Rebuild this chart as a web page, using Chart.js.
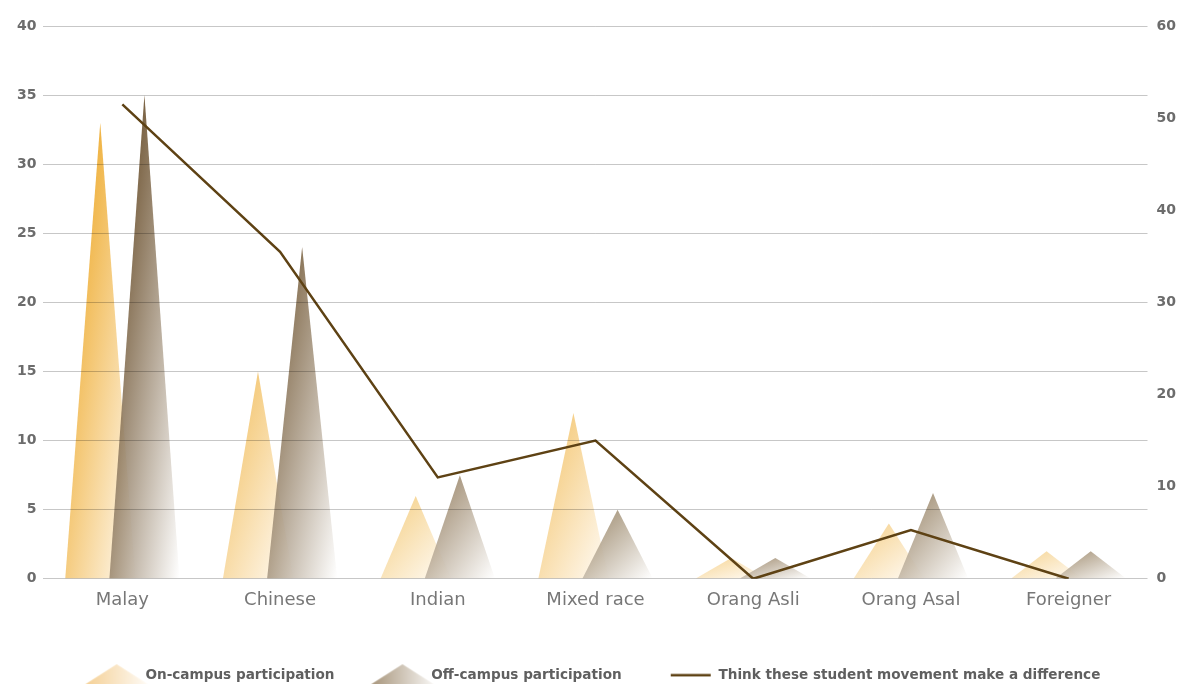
<!DOCTYPE html>
<html>
<head>
<meta charset="utf-8">
<title>Student movement participation by ethnicity</title>
<script src="https://cdn.jsdelivr.net/npm/chart.js@4.4.1/dist/chart.umd.min.js"></script>
<style>
  html, body { margin: 0; padding: 0; background: #fff; }
  #ethnicChart { display: block; }
</style>
</head>
<body>
<canvas id="ethnicChart" width="1177" height="684"></canvas>
<script>
// data
const categories = ["Malay", "Chinese", "Indian", "Mixed race", "Orang Asli", "Orang Asal", "Foreigner"];
const onCampus = [33, 15, 6, 12, 1.5, 4, 2];
const offCampus = [35, 24, 7.5, 5, 1.5, 6.2, 2];
const makeDifference = [51.5, 35.5, 11, 15, 0, 5.3, 0];
const leftTicks = [0, 5, 10, 15, 20, 25, 30, 35, 40];
const rightTicks = [0, 10, 20, 30, 40, 50, 60];

const FONT = "'DejaVu Sans', 'Noto Sans', sans-serif";
const LINE_COLOR = "#5e4214";
const LEGEND_COLOR = "#5f5f5f";

// triangle palettes: light apex / strong apex / fade-out colour
const onPalette = { light: [248, 222, 172], strong: [239, 176, 58], base: "rgb(255,252,248)" };
const offPalette = { light: [176, 160, 136], strong: [104, 77, 42], base: "rgb(255,255,255)" };

function mix(a, b, t) {
  return a.map((v, i) => Math.round(v + (b[i] - v) * t));
}

// little canvases used as legend symbols
function triangleIcon(from) {
  const c = document.createElement("canvas");
  c.width = 74; c.height = 26;
  const g = c.getContext("2d");
  const grad = g.createLinearGradient(0, 0, 74, 0);
  grad.addColorStop(0, from);
  grad.addColorStop(1, "rgba(255,255,255,1)");
  g.fillStyle = grad;
  g.beginPath();
  g.moveTo(1, 25);
  g.lineTo(37, 2);
  g.lineTo(73, 25);
  g.closePath();
  g.fill();
  return c;
}
function lineIcon() {
  const c = document.createElement("canvas");
  c.width = 44; c.height = 4;
  const g = c.getContext("2d");
  g.strokeStyle = LINE_COLOR;
  g.lineWidth = 2.5;
  g.beginPath();
  g.moveTo(3, 2);
  g.lineTo(43, 2);
  g.stroke();
  return c;
}
const legendIcons = [
  triangleIcon("rgb(244,204,140)"),
  triangleIcon("rgb(160,140,112)"),
  lineIcon()
];

// draws each bar as a tall triangle; the fill runs diagonally across
// the triangle's bounding box, from top-left to a faded bottom-right
const trianglePlugin = {
  id: "triangles",
  beforeDatasetsDraw(chart) {
    const ctx = chart.ctx;
    const yMax = chart.scales.y.max;
    chart.data.datasets.forEach((ds, di) => {
      if (ds.type !== "bar") return;
      const meta = chart.getDatasetMeta(di);
      if (meta.hidden) return;
      const pal = ds.palette;
      meta.data.forEach((el, i) => {
        const hw = 35;
        const h = Math.max(1, el.base - el.y);
        const t = Math.min(1, ds.data[i] / yMax * 1.2);
        const top = "rgb(" + mix(pal.light, pal.strong, t).join(",") + ")";
        const s = 4 * hw * h / (h * h + 4 * hw * hw);
        const x0 = el.x - hw, y0 = el.y;
        const grad = ctx.createLinearGradient(x0, y0, x0 + s * h, y0 + s * 2 * hw);
        grad.addColorStop(0, top);
        grad.addColorStop(0.25, top);
        grad.addColorStop(1, pal.base);
        ctx.save();
        ctx.globalAlpha = ds.fillAlpha;
        ctx.fillStyle = grad;
        ctx.beginPath();
        ctx.moveTo(el.x - hw, el.base);
        ctx.lineTo(el.x, el.y);
        ctx.lineTo(el.x + hw, el.base);
        ctx.closePath();
        ctx.fill();
        ctx.restore();
      });
    });
  }
};

const tickFont = { family: FONT, size: 14, weight: "bold" };

new Chart(document.getElementById("ethnicChart"), {
  data: {
    labels: categories,
    datasets: [
      {
        type: "bar",
        label: "On-campus participation",
        data: onCampus,
        yAxisID: "y",
        backgroundColor: "rgba(0,0,0,0)",
        borderWidth: 0,
        palette: onPalette,
        fillAlpha: 0.95,
        order: 1
      },
      {
        type: "bar",
        label: "Off-campus participation",
        data: offCampus,
        yAxisID: "y",
        backgroundColor: "rgba(0,0,0,0)",
        borderWidth: 0,
        palette: offPalette,
        fillAlpha: 0.88,
        order: 1
      },
      {
        type: "line",
        label: "Think these student movement make a difference",
        data: makeDifference,
        yAxisID: "y1",
        borderColor: LINE_COLOR,
        borderWidth: 2.5,
        pointRadius: 0,
        tension: 0,
        fill: false,
        order: 0
      }
    ]
  },
  options: {
    responsive: false,
    animation: false,
    devicePixelRatio: 1,
    events: [],
    layout: { padding: { left: 10, right: -8, top: 26, bottom: -8 } },
    datasets: {
      bar: { categoryPercentage: 0.56, barPercentage: 1 }
    },
    scales: {
      x: {
        grid: { display: false, drawTicks: false },
        border: { display: false },
        ticks: { font: { family: FONT, size: 18 }, color: "#777", padding: 11 }
      },
      y: {
        position: "left",
        min: leftTicks[0],
        max: leftTicks[leftTicks.length - 1],
        ticks: { stepSize: leftTicks[1] - leftTicks[0], font: tickFont, color: "#6c6c6c", padding: 7 },
        grid: { color: "rgba(0,0,0,0.22)", drawTicks: false, z: 1 },
        border: { display: false }
      },
      y1: {
        position: "right",
        min: rightTicks[0],
        max: rightTicks[rightTicks.length - 1],
        ticks: { stepSize: rightTicks[1] - rightTicks[0], font: tickFont, color: "#6c6c6c", padding: 9 },
        grid: { display: false, drawTicks: false },
        border: { display: false }
      }
    },
    plugins: {
      tooltip: { enabled: false },
      legend: {
        position: "bottom",
        labels: {
          usePointStyle: true,
          pointStyleWidth: 44,
          padding: 46,
          color: LEGEND_COLOR,
          font: { family: FONT, size: 13.6, weight: "bold" },
          generateLabels(chart) {
            return chart.data.datasets.map((ds, i) => ({
              text: ds.label,
              datasetIndex: i,
              pointStyle: legendIcons[i],
              fontColor: LEGEND_COLOR,
              hidden: false,
              lineWidth: 0,
              fillStyle: "rgba(0,0,0,0)",
              strokeStyle: "rgba(0,0,0,0)"
            }));
          }
        }
      }
    }
  },
  plugins: [trianglePlugin]
});
</script>
</body>
</html>
